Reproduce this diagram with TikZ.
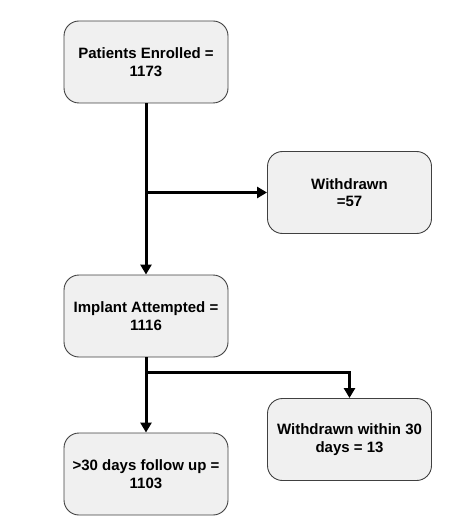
\documentclass[tikz,border=0pt]{standalone}
\usepackage{fontspec}
\setmainfont{Liberation Sans}
\usetikzlibrary{arrows.meta}
\begin{document}
\begin{tikzpicture}[x=1pt,y=-1pt,
  box/.style={draw=black!75,fill=black!6,line width=0.9pt,rounded corners=15pt,
    minimum width=164pt,minimum height=82pt,align=center,
    font=\fontsize{15}{17.5}\selectfont\bfseries,inner sep=2pt},
  conn/.style={line width=3pt,-{Triangle[length=10pt,width=11pt]}}]
\useasboundingbox (0,0) rectangle (465,529);
\node[box] (enr) at (146,62) {Patients Enrolled =\\1173};
\node[box] (wd) at (349.5,192.5) {Withdrawn\\=57};
\node[box] (imp) at (146,316) {Implant Attempted =\\1116};
\node[box] (fu) at (146,474) {>30 days follow up =\\1103};
\node[box] (wd30) at (349.5,439.5) {Withdrawn within 30\\days = 13};
\coordinate (j1) at (enr.south |- wd.west);
\coordinate (j2) at (146,372);
\draw[conn] (enr.south) -- (imp.north);
\draw[conn] (j1) -- (wd.west);
\draw[conn] (imp.south) -- (fu.north);
\draw[conn] (j2) -| (wd30.north);
\end{tikzpicture}
\end{document}
